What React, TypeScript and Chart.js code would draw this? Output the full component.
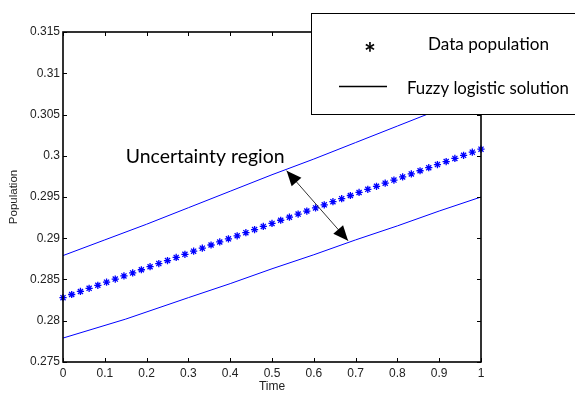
import React, { useEffect, useRef } from "react";
import { Chart, registerables } from "chart.js";

Chart.register(...registerables);

// ---------- data ----------
const timePoints = [
  0, 0.0208, 0.0417, 0.0625, 0.0833, 0.1042, 0.125, 0.1458, 0.1667, 0.1875,
  0.2083, 0.2292, 0.25, 0.2708, 0.2917, 0.3125, 0.3333, 0.3542, 0.375, 0.3958,
  0.4167, 0.4375, 0.4583, 0.4792, 0.5, 0.5208, 0.5417, 0.5625, 0.5833, 0.6042,
  0.625, 0.6458, 0.6667, 0.6875, 0.7083, 0.7292, 0.75, 0.7708, 0.7917, 0.8125,
  0.8333, 0.8542, 0.875, 0.8958, 0.9167, 0.9375, 0.9583, 0.9792, 1,
];
const dataPopulation = [
  0.2828, 0.28318, 0.28355, 0.28393, 0.2843, 0.28468, 0.28505, 0.28543, 0.2858, 0.28618,
  0.28655, 0.28693, 0.2873, 0.28768, 0.28805, 0.28843, 0.2888, 0.28918, 0.28955, 0.28993,
  0.2903, 0.29068, 0.29105, 0.29143, 0.2918, 0.29218, 0.29255, 0.29293, 0.2933, 0.29368,
  0.29405, 0.29443, 0.2948, 0.29518, 0.29555, 0.29593, 0.2963, 0.29668, 0.29705, 0.29743,
  0.2978, 0.29818, 0.29855, 0.29893, 0.2993, 0.29968, 0.30005, 0.30043, 0.3008,
];
const upperTimes = [0, 0.1, 0.2, 0.3, 0.4, 0.5, 0.6, 0.7, 0.8, 0.9, 1];
const upperBound = [0.2879, 0.2898, 0.2917, 0.2937, 0.2957, 0.2977, 0.2996, 0.3016, 0.3036, 0.3056, 0.3076];
const lowerTimes = [0, 0.15, 0.3, 0.4, 0.5, 0.6, 0.7, 0.8, 0.9, 1];
const lowerBound = [0.2779, 0.2802, 0.2828, 0.2845, 0.2863, 0.288, 0.2898, 0.2915, 0.2933, 0.295];

const X_MIN = 0, X_MAX = 1, X_STEP = 0.1;
const Y_MIN = 0.275, Y_MAX = 0.315, Y_STEP = 0.005;
const xTitle = "Time";
const yTitle = "Population";
const legendLabels = ["Data population", "Fuzzy logistic solution"];
const annotationText = "Uncertainty region";
// annotation anchors in data units
const textAnchor = { x: 0.15, y: 0.29908 };
const arrowFrom = { x: 0.535, y: 0.29819 };
const arrowTo = { x: 0.682, y: 0.2897 };

const BLUE = "#0000ff";
const TICK_FONT = "Liberation Sans";
const NOTE_FONT = "Lato";

function fitSize(ctx: CanvasRenderingContext2D, text: string, width: number, family: string) {
  ctx.font = `100px ${family}`;
  const w = ctx.measureText(text).width;
  return (100 * width) / w;
}

function arrowHead(ctx: CanvasRenderingContext2D, tx: number, ty: number, fx: number, fy: number) {
  const ang = Math.atan2(ty - fy, tx - fx);
  const len = 15, half = 6.5;
  const bx = tx - len * Math.cos(ang), by = ty - len * Math.sin(ang);
  ctx.beginPath();
  ctx.moveTo(tx, ty);
  ctx.lineTo(bx + half * Math.sin(ang), by - half * Math.cos(ang));
  ctx.lineTo(bx - half * Math.sin(ang), by + half * Math.cos(ang));
  ctx.closePath();
  ctx.fill();
}

const decorPlugin = {
  id: "decor",
  afterDatasetsDraw(chart: any) {
    const ctx: CanvasRenderingContext2D = chart.ctx;
    const { left, right, top, bottom } = chart.chartArea;
    const xs = chart.scales.x, ys = chart.scales.y;
    ctx.save();
    // frame
    ctx.strokeStyle = "#000";
    ctx.lineWidth = 1.6;
    ctx.strokeRect(left, top, right - left, bottom - top);
    // inward ticks
    const tl = 4;
    ctx.lineWidth = 1;
    ctx.beginPath();
    xs.ticks.forEach((t: any) => {
      const px = Math.round(xs.getPixelForValue(t.value)) + 0.5;
      ctx.moveTo(px, bottom); ctx.lineTo(px, bottom - tl);
      ctx.moveTo(px, top); ctx.lineTo(px, top + tl);
    });
    ys.ticks.forEach((t: any) => {
      const py = Math.round(ys.getPixelForValue(t.value)) + 0.5;
      ctx.moveTo(left, py); ctx.lineTo(left + tl, py);
      ctx.moveTo(right, py); ctx.lineTo(right - tl, py);
    });
    ctx.stroke();

    // annotation text
    ctx.fillStyle = "#000";
    const ns = fitSize(ctx, annotationText, 159, NOTE_FONT);
    ctx.font = `${ns}px ${NOTE_FONT}`;
    ctx.textAlign = "left";
    ctx.textBaseline = "alphabetic";
    ctx.fillText(annotationText, xs.getPixelForValue(textAnchor.x), ys.getPixelForValue(textAnchor.y));

    // double arrow
    const ax1 = xs.getPixelForValue(arrowFrom.x), ay1 = ys.getPixelForValue(arrowFrom.y);
    const ax2 = xs.getPixelForValue(arrowTo.x), ay2 = ys.getPixelForValue(arrowTo.y);
    ctx.strokeStyle = "#000";
    ctx.lineWidth = 0.8;
    ctx.beginPath();
    ctx.moveTo(ax1, ay1); ctx.lineTo(ax2, ay2);
    ctx.stroke();
    arrowHead(ctx, ax1, ay1, ax2, ay2);
    arrowHead(ctx, ax2, ay2, ax1, ay1);

    // legend box
    const lx = 311, ly = 13, lb = 114;
    ctx.fillStyle = "#fff";
    ctx.fillRect(lx, ly, chart.width - lx + 5, lb - ly);
    ctx.strokeStyle = "#000";
    ctx.lineWidth = 1;
    ctx.strokeRect(lx + 0.5, ly + 0.5, chart.width, lb - ly);
    ctx.fillStyle = "#000";
    // star marker symbol
    ctx.font = `bold 28px ${NOTE_FONT}`;
    ctx.textAlign = "center";
    ctx.fillText("*", 370, 63);
    // line symbol
    ctx.lineWidth = 1.6;
    ctx.beginPath();
    ctx.moveTo(339, 86.5); ctx.lineTo(387, 86.5);
    ctx.stroke();
    ctx.textAlign = "left";
    const s1 = fitSize(ctx, legendLabels[0], 121, NOTE_FONT);
    ctx.font = `${s1}px ${NOTE_FONT}`;
    ctx.fillText(legendLabels[0], 428, 50);
    const s2 = fitSize(ctx, legendLabels[1], 162, NOTE_FONT);
    ctx.font = `${s2}px ${NOTE_FONT}`;
    ctx.fillText(legendLabels[1], 407, 94);
    ctx.restore();
  },
};

function fmt(v: number) {
  return String(Number(v.toFixed(3)));
}

export default function App() {
  const ref = useRef<HTMLCanvasElement | null>(null);
  useEffect(() => {
    document.body.style.margin = "0";
    const canvas = ref.current!;
    const chart = new Chart(canvas, {
      type: "line",
      data: {
        datasets: [
          {
            label: legendLabels[0],
            data: timePoints.map((t, i) => ({ x: t, y: dataPopulation[i] })),
            showLine: false,
            pointStyle: "star",
            pointRadius: 3.6,
            pointBorderWidth: 1.3,
            borderColor: BLUE,
            backgroundColor: BLUE,
            clip: false,
          },
          {
            label: legendLabels[1],
            data: upperTimes.map((t, i) => ({ x: t, y: upperBound[i] })),
            borderColor: BLUE,
            borderWidth: 1,
            pointRadius: 0,
            tension: 0,
          },
          {
            label: legendLabels[1] + " (lower)",
            data: lowerTimes.map((t, i) => ({ x: t, y: lowerBound[i] })),
            borderColor: BLUE,
            borderWidth: 1,
            pointRadius: 0,
            tension: 0,
          },
        ],
      },
      options: {
        animation: false,
        responsive: false,
        devicePixelRatio: 1,
        layout: { padding: { top: 32, right: 94, left: 0, bottom: 0 } },
        plugins: { legend: { display: false }, tooltip: { enabled: false } },
        scales: {
          x: {
            type: "linear",
            min: X_MIN,
            max: X_MAX,
            grid: { display: false, drawTicks: false },
            border: { display: false },
            ticks: {
              stepSize: X_STEP,
              padding: 4,
              color: "#222",
              font: { family: TICK_FONT, size: 12 },
              callback: (v: any) => fmt(Number(v)),
              maxRotation: 0,
            },
            title: {
              display: true,
              text: xTitle,
              color: "#222",
              font: { family: TICK_FONT, size: 12 },
              padding: { top: 0, bottom: 0 },
            },
            afterFit: (s: any) => { s.height = 32; },
          },
          y: {
            type: "linear",
            min: Y_MIN,
            max: Y_MAX,
            grid: { display: false, drawTicks: false },
            border: { display: false },
            ticks: {
              stepSize: Y_STEP,
              padding: 3,
              color: "#222",
              font: { family: TICK_FONT, size: 12 },
              callback: (v: any) => fmt(Number(v)),
            },
            title: {
              display: true,
              text: yTitle,
              color: "#222",
              font: { family: TICK_FONT, size: 11.5 },
              padding: { top: 7, bottom: 0 },
            },
            afterFit: (s: any) => { s.width = 63; },
          },
        },
      },
      plugins: [decorPlugin],
    } as any);
    return () => chart.destroy();
  }, []);
  return (
    <div style={{ width: 575, height: 394 }}>
      <canvas ref={ref} width={575} height={394} style={{ width: 575, height: 394, display: "block" }} />
    </div>
  );
}
